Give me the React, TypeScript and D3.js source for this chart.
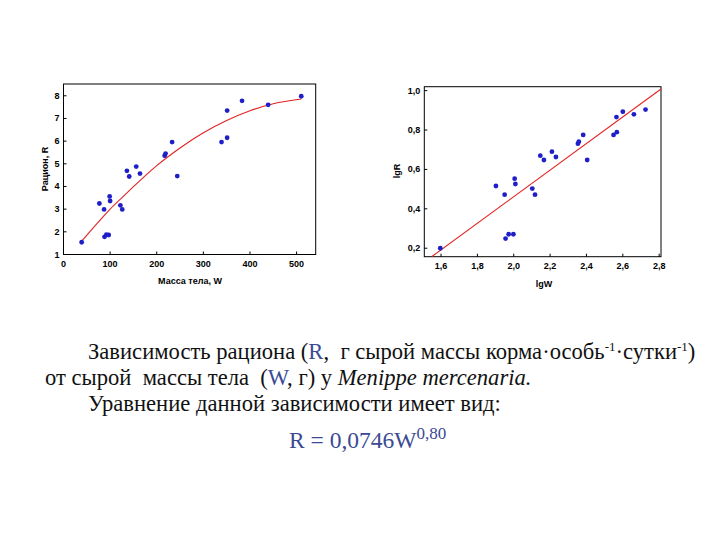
import * as d3 from "d3";

// left panel: ration vs body mass
const massW = [39, 77, 87, 99, 100, 88, 92, 97, 122, 126, 136, 141, 156, 164, 217, 219, 233, 244, 339, 351, 351, 383, 439, 510];
const rationR = [1.54, 3.25, 2.99, 3.56, 3.36, 1.78, 1.87, 1.86, 3.17, 2.99, 4.69, 4.44, 4.88, 4.57, 5.36, 5.45, 5.96, 4.46, 5.96, 6.15, 7.35, 7.78, 7.6, 7.98];
// fitted curve
const fitW = [39, 60, 80, 100, 125, 150, 175, 200, 250, 300, 350, 400, 450, 510];
const fitR = [1.59, 2.09, 2.55, 3.0, 3.5, 3.99, 4.47, 4.92, 5.7, 6.37, 6.91, 7.34, 7.65, 7.86];
const massTicks = [0, 100, 200, 300, 400, 500];
const rationTicks = [1, 2, 3, 4, 5, 6, 7, 8];

// right panel: lgR vs lgW
const lgW = [1.596, 1.902, 1.95, 2.005, 2.009, 1.955, 1.972, 1.998, 2.102, 2.117, 2.146, 2.166, 2.21, 2.232, 2.353, 2.358, 2.382, 2.404, 2.549, 2.567, 2.565, 2.6, 2.661, 2.725];
const lgR = [0.2, 0.516, 0.472, 0.553, 0.526, 0.249, 0.271, 0.271, 0.503, 0.472, 0.67, 0.648, 0.69, 0.663, 0.731, 0.741, 0.775, 0.648, 0.775, 0.789, 0.866, 0.893, 0.88, 0.904];
const lineLgW = [1.55, 2.81];
const lineLgR = [0.158, 1.008];
const lgWTicks = [1.6, 1.8, 2.0, 2.2, 2.4, 2.6, 2.8];
const lgRTicks = [0.2, 0.4, 0.6, 0.8, 1.0];

const comma = (v: number) => d3.format(".1f")(v).replace(".", ",");
const sans = "Liberation Sans, Arial, sans-serif";
const serif = "Liberation Serif, Times New Roman, serif";
const dotColor = "#1f1fc8";
const lineColor = "#e32222";
const blueText = "#3b4a94";
const labelStyle = { fontFamily: sans, fontWeight: 700, fontSize: 9 };
const bodyStyle = { fontFamily: serif, fontSize: 22.6 };

function LeftPanel() {
  const x = d3.scaleLinear().domain([0, 541]).range([63.5, 315.7]);
  const y = d3.scaleLinear().domain([1, 8.52]).range([254.5, 84]);
  const line = d3.line<number>()
    .x((_, i) => x(fitW[i]))
    .y((_, i) => y(fitR[i]))
    .curve(d3.curveMonotoneX);
  return (
    <g>
      <rect x={x(0)} y={y(8.52)} width={x(541) - x(0)} height={y(1) - y(8.52)} fill="none" stroke="#000" strokeWidth={1} />
      {massTicks.map(t => (
        <g key={t}>
          <line x1={x(t)} x2={x(t)} y1={y(1)} y2={y(1) - 3} stroke="#000" />
          <text x={x(t)} y={y(1) + 12} textAnchor="middle" style={labelStyle}>{t}</text>
        </g>
      ))}
      {rationTicks.map(t => (
        <g key={t}>
          <line x1={x(0)} x2={x(0) + 3} y1={y(t)} y2={y(t)} stroke="#000" />
          <text x={x(0) - 4} y={y(t) + 3} textAnchor="end" style={labelStyle}>{t}</text>
        </g>
      ))}
      <path d={line(fitW) ?? ""} fill="none" stroke={lineColor} strokeWidth={1.1} />
      {massW.map((w, i) => (
        <circle key={i} cx={x(w)} cy={y(rationR[i])} r={2.4} fill={dotColor} />
      ))}
      <text x={190} y={284} textAnchor="middle" style={labelStyle}>Масса тела, W</text>
      <text transform="translate(48,169) rotate(-90)" textAnchor="middle" style={labelStyle}>Рацион, R</text>
    </g>
  );
}

function RightPanel() {
  const x = d3.scaleLinear().domain([1.508, 2.81]).range([424.3, 661]);
  const y = d3.scaleLinear().domain([0.157, 1.02]).range([256.7, 86.7]);
  return (
    <g>
      <rect x={x(1.508)} y={y(1.02)} width={x(2.81) - x(1.508)} height={y(0.157) - y(1.02)} fill="none" stroke="#000" strokeWidth={1} />
      {lgWTicks.map(t => (
        <g key={t}>
          <line x1={x(t)} x2={x(t)} y1={y(0.157)} y2={y(0.157) - 3} stroke="#000" />
          <text x={x(t)} y={y(0.157) + 12} textAnchor="middle" style={labelStyle}>{comma(t)}</text>
        </g>
      ))}
      {lgRTicks.map(t => (
        <g key={t}>
          <line x1={x(1.508)} x2={x(1.508) + 3} y1={y(t)} y2={y(t)} stroke="#000" />
          <text x={x(1.508) - 4} y={y(t) + 3} textAnchor="end" style={labelStyle}>{comma(t)}</text>
        </g>
      ))}
      <line x1={x(lineLgW[0])} y1={y(lineLgR[0])} x2={x(lineLgW[1])} y2={y(lineLgR[1])} stroke={lineColor} strokeWidth={1.1} />
      {lgW.map((w, i) => (
        <circle key={i} cx={x(w)} cy={y(lgR[i])} r={2.4} fill={dotColor} />
      ))}
      <text x={544} y={287} textAnchor="middle" style={labelStyle}>lgW</text>
      <text transform="translate(400,171) rotate(-90)" textAnchor="middle" style={labelStyle}>lgR</text>
    </g>
  );
}

export default function App() {
  return (
    <svg width={720} height={540} style={{ position: "absolute", left: 0, top: 0, background: "#fff" }}>
      <rect width={720} height={540} fill="#fff" />
      <LeftPanel />
      <RightPanel />
      <g fill="#111">
        <text x={88} y={359} style={bodyStyle}>
          Зависимость рациона (<tspan fill={blueText}>R</tspan>,{"\u00a0 "}г сырой массы корма·особь
          <tspan fontSize={13} dy={-8}>-1</tspan><tspan dy={8}>·сутки</tspan>
          <tspan fontSize={13} dy={-8}>-1</tspan><tspan dy={8}>)</tspan>
        </text>
        <text x={45} y={385} style={bodyStyle}>
          от сырой{"\u00a0 "}массы тела{"\u00a0 "}(<tspan fill={blueText}>W</tspan>, г) у <tspan fontStyle="italic">Menippe mercenaria.</tspan>
        </text>
        <text x={88} y={411} style={bodyStyle}>Уравнение данной зависимости имеет вид:</text>
        <text x={289} y={448} fill={blueText} style={{ fontFamily: serif, fontSize: 23.5 }}>
          R = 0,0746W<tspan fontSize={17} dy={-9}>0,80</tspan>
        </text>
      </g>
    </svg>
  );
}
